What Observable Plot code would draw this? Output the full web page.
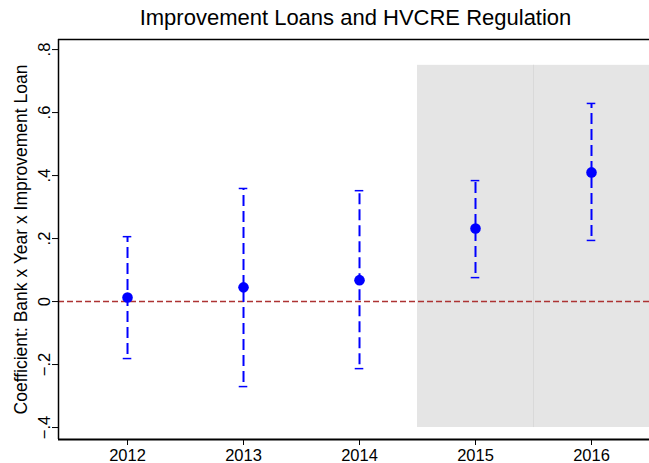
<!DOCTYPE html>
<html>
<head>
<meta charset="utf-8">
<script src="https://cdn.jsdelivr.net/npm/d3@7"></script>
<script src="https://cdn.jsdelivr.net/npm/@observablehq/plot@0.6"></script>
<style>
  body { margin: 0; background: #fff; }
  #wrap { width: 649px; height: 463px; position: relative; overflow: hidden; font-family: "Liberation Sans", Arial, sans-serif; }
  #title { height: 30px; line-height: 30px; text-align: center; font-size: 22px; color: #000; padding-left: 62px; box-sizing: border-box; width: 649px; padding-top: 3px;}
</style>
</head>
<body>
<div id="wrap">
  <div id="title">Improvement Loans and HVCRE Regulation</div>
  <div id="chart"></div>
</div>
<script>
const years = [2012, 2013, 2014, 2015, 2016];
const coef  = [0.013, 0.045, 0.068, 0.232, 0.410];
const lower = [-0.181, -0.270, -0.213, 0.076, 0.194];
const upper = [0.206, 0.359, 0.352, 0.384, 0.629];
const yTicks = [-0.4, -0.2, 0, 0.2, 0.4, 0.6, 0.8];
const xTicks = [2012, 2013, 2014, 2015, 2016];
const shadedYears = [2015, 2016];
const shadeRange = [-0.4, 0.75];
const xDomain = [2011.405, 2016.5];
const yDomain = [-0.438, 0.832];
const yLabel = "Coefficient: Bank x Year x Improvement Loan";

const rows = years.map((y, i) => ({year: y, coef: coef[i], lo: lower[i], hi: upper[i]}));
const shade = shadedYears.map(y => ({x1: y - 0.5, x2: y + 0.5, y1: shadeRange[0], y2: shadeRange[1]}));
const capHalf = 0.037;
const fmt = d => d === 0 ? "0" : d3.format(".1f")(d).replace("0.", ".");

const chart = Plot.plot({
  width: 649,
  height: 433,
  marginTop: 9,
  marginBottom: 24,
  marginLeft: 58,
  marginRight: 0,
  style: {fontFamily: "'Liberation Sans', Arial, sans-serif", fontSize: "16px", color: "#000", background: "#fff", overflow: "visible"},
  x: {domain: xDomain},
  y: {domain: yDomain},
  marks: [
    Plot.rect(shade, {x1: "x1", x2: "x2", y1: "y1", y2: "y2", fill: "#e5e5e5"}),
    Plot.ruleX(shadedYears.slice(0, 1).map(y => y + 0.5), {y1: shadeRange[0], y2: shadeRange[1], stroke: "#d9d9d9", strokeWidth: 1}),
    Plot.ruleY([0], {stroke: "#ad3333", strokeWidth: 1.4, strokeDasharray: "6,3"}),
    Plot.ruleX(rows, {x: "year", y1: "lo", y2: "hi", stroke: "#0000ff", strokeWidth: 2, strokeDasharray: "11,5", strokeDashoffset: -4}),
    Plot.ruleY(rows, {y: "hi", x1: d => d.year - capHalf, x2: d => d.year + capHalf, stroke: "#0000ff", strokeWidth: 1.5}),
    Plot.ruleY(rows, {y: "lo", x1: d => d.year - capHalf, x2: d => d.year + capHalf, stroke: "#0000ff", strokeWidth: 1.5}),
    Plot.dot(rows, {x: "year", y: "coef", r: 5.3, fill: "#0000ff", stroke: "none"}),
    Plot.axisX({ticks: xTicks, tickFormat: () => "", tickSize: 6, label: null}),
    Plot.text(xTicks, {x: d => d, text: d => String(d), frameAnchor: "bottom", dy: 10, lineAnchor: "top", textAnchor: "middle", fontSize: 16.5, fill: "#000"}),
    Plot.axisY({ticks: yTicks, tickFormat: () => "", tickSize: 6, label: null}),
    Plot.text(yTicks, {y: d => d, text: fmt, frameAnchor: "left", dx: -9, rotate: -90, textAnchor: "middle", lineAnchor: "bottom", fontSize: 16.5, fill: "#000"}),
    Plot.text([yLabel], {frameAnchor: "left", rotate: -90, dx: -37, textAnchor: "middle", lineAnchor: "middle", fontSize: 17.5, fill: "#000"}),
    Plot.ruleY([yDomain[0]], {stroke: "#000", strokeWidth: 2}),
    Plot.ruleY([yDomain[1]], {stroke: "#000", strokeWidth: 1.5}),
    Plot.ruleX([xDomain[0]], {stroke: "#000", strokeWidth: 1.5})
  ]
});
document.getElementById("chart").appendChild(chart);
</script>
</body>
</html>
